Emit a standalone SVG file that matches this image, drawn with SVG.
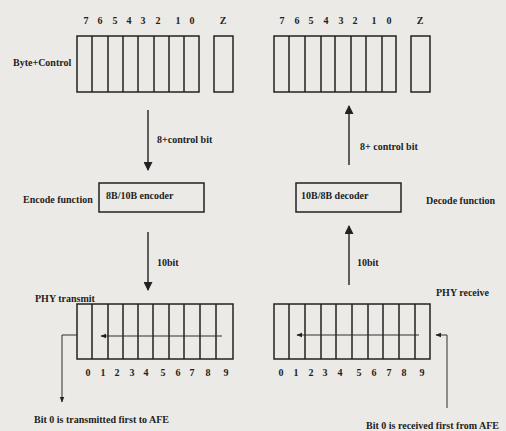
<svg xmlns="http://www.w3.org/2000/svg" width="506" height="431" viewBox="0 0 506 431">
<defs>
<style>
text{font-family:"Liberation Serif","Times New Roman",serif;font-weight:bold;fill:#1e1e1e;font-size:10px}
.d{font-size:11px}
.box{fill:none;stroke:#222;stroke-width:1.5}
.ln{fill:none;stroke:#222;stroke-width:1.4}
.tn{fill:none;stroke:#2e2e2e;stroke-width:1}
</style>
<marker id="ah" viewBox="0 0 10 10" refX="9" refY="5" markerWidth="13" markerHeight="9" markerUnits="userSpaceOnUse" orient="auto"><path d="M0,0L10,5L0,10z" fill="#222"/></marker>
<marker id="as" viewBox="0 0 10 10" refX="9" refY="5" markerWidth="6" markerHeight="6" markerUnits="userSpaceOnUse" orient="auto"><path d="M0,1L10,5L0,9z" fill="#222"/></marker>
</defs>
<rect width="506" height="431" fill="#ebeae6"/>

<g id="tx-byte">
<text x="13" y="66">Byte+Control</text>
<g class="d" text-anchor="middle"><text x="86" y="24">7</text><text x="100" y="24">6</text><text x="115" y="24">5</text><text x="129" y="24">4</text><text x="143" y="24">3</text><text x="158" y="24">2</text><text x="178" y="24">1</text><text x="192" y="24">0</text><text x="223" y="24">Z</text></g>
<rect class="box" x="77" y="36" width="122" height="56"/>
<path class="box" d="M92,36V92M108,36V92M123,36V92M138,36V92M154,36V92M169,36V92M184,36V92"/>
<rect class="box" x="214" y="36" width="19" height="56"/>
</g>

<g id="rx-byte">
<g class="d" text-anchor="middle"><text x="282" y="24">7</text><text x="297" y="24">6</text><text x="311" y="24">5</text><text x="326" y="24">4</text><text x="341" y="24">3</text><text x="355" y="24">2</text><text x="374" y="24">1</text><text x="389" y="24">0</text><text x="420" y="24">Z</text></g>
<rect class="box" x="274" y="36" width="122" height="56"/>
<path class="box" d="M289,36V92M305,36V92M321,36V92M335,36V92M351,36V92M366,36V92M382,36V92"/>
<rect class="box" x="411" y="36" width="19" height="56"/>
</g>

<g id="encoder">
<text x="23" y="203">Encode function</text>
<rect class="box" x="99" y="183" width="105" height="29"/>
<text x="106" y="199">8B/10B encoder</text>
</g>

<g id="decoder">
<rect class="box" x="296" y="183" width="105" height="29"/>
<text x="301" y="199">10B/8B decoder</text>
<text x="426" y="204">Decode function</text>
</g>

<g id="tx-phy">
<text x="35" y="302">PHY transmit</text>
<rect class="box" x="77" y="304" width="156" height="55"/>
<path class="box" d="M92,304V359M108,304V359M123,304V359M138,304V359M153,304V359M169,304V359M184,304V359M200,304V359M216,304V359"/>
<path class="tn" d="M222,336H101" marker-end="url(#as)"/>
<g class="d" text-anchor="middle"><text x="88" y="376">0</text><text x="103" y="376">1</text><text x="117" y="376">2</text><text x="132" y="376">3</text><text x="146" y="376">4</text><text x="163" y="376">5</text><text x="178" y="376">6</text><text x="192" y="376">7</text><text x="208" y="376">8</text><text x="226" y="376">9</text></g>
<text x="34" y="423">Bit 0 is transmitted first to AFE</text>
</g>

<g id="rx-phy">
<text x="436" y="296">PHY receive</text>
<rect class="box" x="274" y="304" width="156" height="55"/>
<path class="box" d="M289,304V359M305,304V359M321,304V359M336,304V359M352,304V359M368,304V359M383,304V359M399,304V359M415,304V359"/>
<path class="tn" d="M419,335H297" marker-end="url(#as)"/>
<g class="d" text-anchor="middle"><text x="281" y="376">0</text><text x="296" y="376">1</text><text x="311" y="376">2</text><text x="325" y="376">3</text><text x="340" y="376">4</text><text x="359" y="376">5</text><text x="374" y="376">6</text><text x="389" y="376">7</text><text x="404" y="376">8</text><text x="422" y="376">9</text></g>
<text x="366" y="429">Bit 0 is received first from AFE</text>
</g>

<g id="connectors">
<path class="ln" d="M148,110V170" marker-end="url(#ah)"/>
<text x="157" y="143">8+control bit</text>
<path class="ln" d="M148,232V290" marker-end="url(#ah)"/>
<text x="157" y="266">10bit</text>
<path class="ln" d="M349,165V106" marker-end="url(#ah)"/>
<text x="360" y="150">8+ control bit</text>
<path class="ln" d="M349,285V226" marker-end="url(#ah)"/>
<text x="357" y="266">10bit</text>
<path class="tn" d="M77,335H62V402" marker-end="url(#as)"/>
<path class="tn" d="M447,408V335H436" marker-end="url(#as)"/>
</g>
</svg>
